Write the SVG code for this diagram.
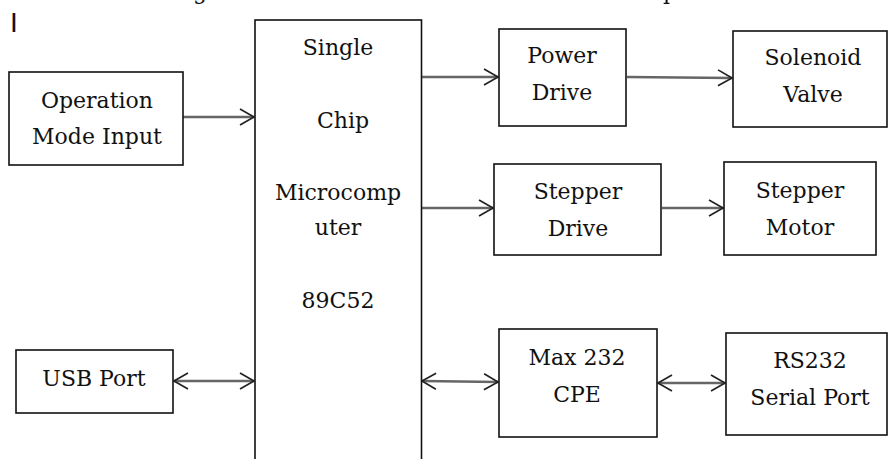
<svg xmlns="http://www.w3.org/2000/svg" width="889" height="459" viewBox="0 0 889 459">
<style>
.box{fill:#fff;stroke:#111;stroke-width:1.6}
.t{font-family:"DejaVu Serif","Liberation Serif",serif;font-size:22px;fill:#111;text-anchor:middle}
.c{fill:none;stroke:#666;stroke-width:2.4}
</style>
<defs>
<marker id="ah" markerUnits="userSpaceOnUse" markerWidth="18" markerHeight="20" viewBox="0 0 18 20" refX="16" refY="10" orient="auto-start-reverse">
<path d="M2,2 L16,10 L2,18" fill="none" stroke="#222" stroke-width="1.7"/>
</marker>
</defs>
<rect width="889" height="459" fill="#fff"/>
<text x="200" y="-1" class="t">g</text>
<text x="670" y="-1" class="t">p</text>
<text x="14" y="32" font-family="'Liberation Sans', Arial, sans-serif" font-size="28" text-anchor="middle" fill="#111">I</text>

<g id="connectors">
<path class="c" d="M183,117 L254,117" marker-end="url(#ah)"/>
<path class="c" d="M174,381 L254,381" marker-start="url(#ah)" marker-end="url(#ah)"/>
<path class="c" d="M422,77 L498,77" marker-end="url(#ah)"/>
<path class="c" d="M627,77 L732,78" marker-end="url(#ah)"/>
<path class="c" d="M422,208 L493,208" marker-end="url(#ah)"/>
<path class="c" d="M662,208 L723,208" marker-end="url(#ah)"/>
<path class="c" d="M422,381 L498,382" marker-start="url(#ah)" marker-end="url(#ah)"/>
<path class="c" d="M658,383 L725,383" marker-start="url(#ah)" marker-end="url(#ah)"/>
</g>

<g id="operation-mode-input">
<rect class="box" x="9" y="72" width="174" height="93"/>
<text class="t" x="97" y="108">Operation</text>
<text class="t" x="97" y="144">Mode Input</text>
</g>

<g id="usb-port">
<rect class="box" x="16" y="350" width="157" height="63"/>
<text class="t" x="94" y="386">USB Port</text>
</g>

<g id="microcomputer">
<rect class="box" x="255" y="20" width="166.5" height="460"/>
<text class="t" x="338" y="55">Single</text>
<text class="t" x="343" y="128">Chip</text>
<text class="t" x="338" y="200">Microcomp</text>
<text class="t" x="338" y="235">uter</text>
<text class="t" x="338" y="308">89C52</text>
</g>

<g id="power-drive">
<rect class="box" x="499" y="29" width="127" height="97"/>
<text class="t" x="562" y="63">Power</text>
<text class="t" x="562" y="100">Drive</text>
</g>

<g id="solenoid-valve">
<rect class="box" x="733" y="31" width="154" height="96"/>
<text class="t" x="813" y="65">Solenoid</text>
<text class="t" x="813" y="102">Valve</text>
</g>

<g id="stepper-drive">
<rect class="box" x="494" y="164" width="167" height="91"/>
<text class="t" x="578" y="199">Stepper</text>
<text class="t" x="578" y="236">Drive</text>
</g>

<g id="stepper-motor">
<rect class="box" x="724" y="162" width="152" height="93"/>
<text class="t" x="800" y="198">Stepper</text>
<text class="t" x="800" y="235">Motor</text>
</g>

<g id="max232-cpe">
<rect class="box" x="499" y="329" width="158" height="108"/>
<text class="t" x="577" y="365">Max 232</text>
<text class="t" x="577" y="402">CPE</text>
</g>

<g id="rs232-serial-port">
<rect class="box" x="726" y="333" width="161" height="102"/>
<text class="t" x="810" y="368">RS232</text>
<text class="t" x="810" y="405">Serial Port</text>
</g>
</svg>
